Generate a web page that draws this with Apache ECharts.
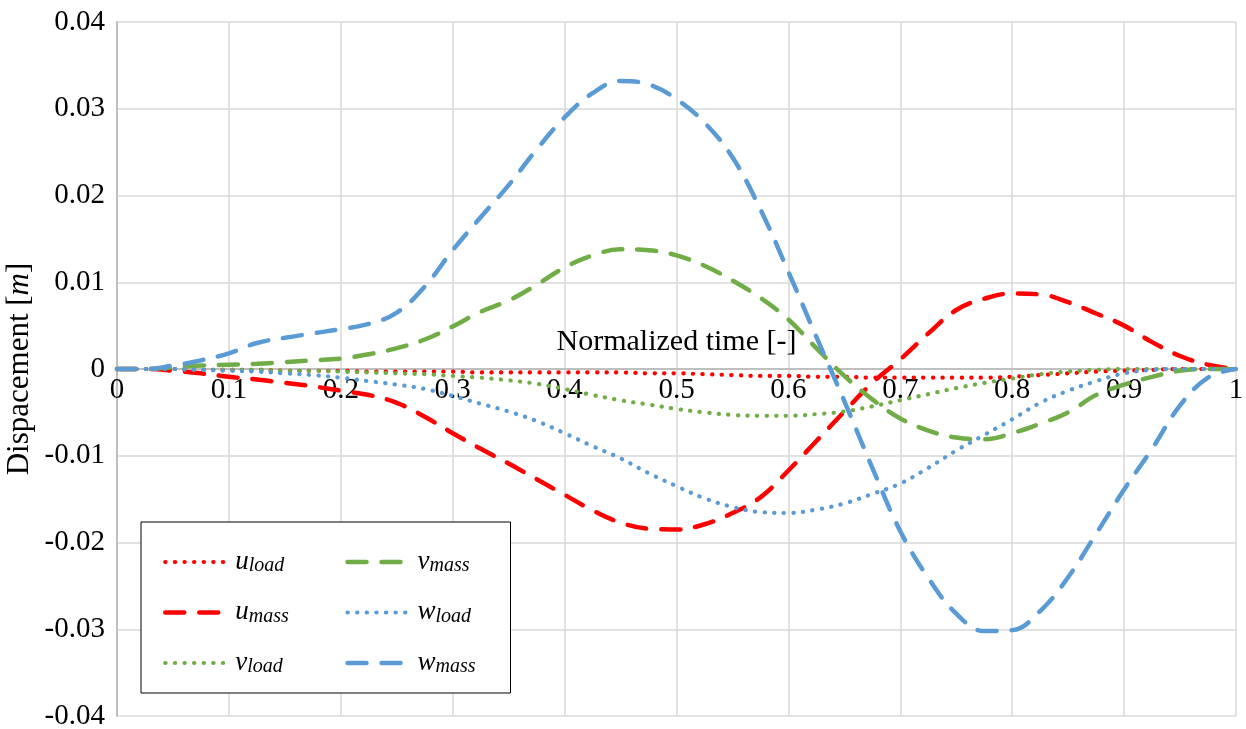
<!DOCTYPE html>
<html>
<head>
<meta charset="utf-8">
<script src="https://cdn.jsdelivr.net/npm/echarts@6/dist/echarts.min.js"></script>
<style>
html,body{margin:0;padding:0;background:#fff;}
#chart{width:1246px;height:729px;}
</style>
</head>
<body>
<div id="chart"></div>
<script>
const time = [0,0.025,0.05,0.075,0.1,0.125,0.15,0.175,0.2,0.225,0.25,0.275,0.3,0.325,0.35,0.375,0.4,0.425,0.45,0.475,0.5,0.525,0.55,0.575,0.6,0.625,0.65,0.675,0.7,0.725,0.75,0.775,0.8,0.825,0.85,0.875,0.9,0.925,0.95,0.975,1];

const uLoad = [0,0,0,-0.0001,-0.0001,-0.0001,-0.0002,-0.0002,-0.0002,-0.0003,-0.0003,-0.0003,-0.0003,-0.0004,-0.0004,-0.0004,-0.0004,-0.0004,-0.0004,-0.0005,-0.0005,-0.0006,-0.0007,-0.0008,-0.0008,-0.0009,-0.0009,-0.001,-0.001,-0.001,-0.001,-0.001,-0.0009,-0.0007,-0.0005,-0.0003,-0.0002,-0.0001,0,0,0];

const uMass = [0,0,-0.0002,-0.0005,-0.0009,-0.0012,-0.0016,-0.0020,-0.0025,-0.0030,-0.0039,-0.0055,-0.0074,-0.0092,-0.0109,-0.0127,-0.0145,-0.0163,-0.0177,-0.0184,-0.0185,-0.0179,-0.0166,-0.0148,-0.0117,-0.0083,-0.0049,-0.0016,0.0011,0.0041,0.0068,0.0081,0.0087,0.0086,0.0077,0.0064,0.0050,0.0031,0.0015,0.0005,0];

const vLoad = [0,0,0,-0.0001,-0.0001,-0.0001,-0.0002,-0.0002,-0.0003,-0.0004,-0.0005,-0.0006,-0.0008,-0.0010,-0.0013,-0.0017,-0.0023,-0.0030,-0.0036,-0.0041,-0.0046,-0.0050,-0.0053,-0.0054,-0.0054,-0.0052,-0.0049,-0.0043,-0.0036,-0.0029,-0.0022,-0.0016,-0.0011,-0.0006,-0.0003,-0.0001,0,0,0,0,0];

const vMass = [0,0,0.0002,0.0004,0.0005,0.0006,0.0008,0.0010,0.0012,0.0017,0.0024,0.0034,0.0049,0.0066,0.0079,0.0097,0.0117,0.0131,0.0138,0.0137,0.0131,0.0119,0.0102,0.0082,0.0057,0.0024,-0.0008,-0.0035,-0.0057,-0.0071,-0.0079,-0.0081,-0.0074,-0.0063,-0.0050,-0.0030,-0.0018,-0.0009,-0.0002,0,0];

const wLoad = [0,0,0,-0.0001,-0.0002,-0.0003,-0.0005,-0.0007,-0.0010,-0.0014,-0.0018,-0.0023,-0.0031,-0.0040,-0.0049,-0.0060,-0.0074,-0.0089,-0.0103,-0.0120,-0.0135,-0.0149,-0.0159,-0.0165,-0.0166,-0.0162,-0.0155,-0.0144,-0.0132,-0.0114,-0.0094,-0.0076,-0.0058,-0.0039,-0.0025,-0.0014,-0.0005,-0.0001,0,0,0];

const wMass = [0,0,0.0004,0.0010,0.0018,0.0030,0.0036,0.0041,0.0046,0.0052,0.0065,0.0095,0.0137,0.0175,0.0212,0.0253,0.0290,0.0318,0.0332,0.0328,0.0311,0.0284,0.0244,0.0184,0.0112,0.0037,-0.0037,-0.0114,-0.0187,-0.0241,-0.0282,-0.0302,-0.0301,-0.0279,-0.0240,-0.0190,-0.0139,-0.0092,-0.0042,-0.0010,0];

const seriesNames = ['u_load','u_mass','v_load','v_mass','w_load','w_mass'];
const seriesValues = [uLoad,uMass,vLoad,vMass,wLoad,wMass];
const seriesColors = ['#ff0000','#ff0000','#70ad47','#70ad47','#5b9bd5','#5b9bd5'];
const seriesDash = ['dot','dash','dot','dash','dot','dash'];

const xTicks = {min:0, max:1, interval:0.1};
const yTicks = {min:-0.04, max:0.04, interval:0.01};

const FONT = "'Liberation Serif', 'Times New Roman', serif";
const W = 1246, H = 729;
const gridBox = {left: 117, right: 10, top: 22, bottom: 13};
// place the x axis line at y = 0 (computed from the y scale)
const plotH = H - gridBox.top - gridBox.bottom;
const zeroOffset = -plotH * (0 - yTicks.min) / (yTicks.max - yTicks.min);

const chart = echarts.init(document.getElementById('chart'), null, {renderer:'canvas'});

const series = seriesNames.map((name, i) => ({
  name: name,
  type: 'line',
  data: time.map((t, k) => [t, seriesValues[i][k]]),
  smooth: 0.4,
  symbol: 'none',
  showSymbol: false,
  lineStyle: {
    color: seriesColors[i],
    width: seriesDash[i] === 'dash' ? 4.5 : 4.2,
    type: seriesDash[i] === 'dash' ? [19, 15] : [0.3, 9.3],
    cap: 'round'
  },
  itemStyle: {color: seriesColors[i]},
  z: 2 + i
}));

chart.setOption({
  animation: false,
  backgroundColor: '#ffffff',
  grid: Object.assign({containLabel: false, outerBoundsMode: 'none'}, gridBox),
  xAxis: {
    type: 'value',
    min: xTicks.min, max: xTicks.max, interval: xTicks.interval,
    offset: zeroOffset,
    name: 'Normalized time [-]',
    nameLocation: 'middle',
    nameGap: -42,
    nameMoveOverlap: false,
    nameTextStyle: {fontFamily: FONT, fontSize: 30, color: '#000'},
    axisLine: {show: true, onZero: false, lineStyle: {color: '#bfbfbf', width: 2}},
    axisTick: {show: false},
    axisLabel: {fontFamily: FONT, fontSize: 29, color: '#000', margin: 7,
      formatter: v => String(Math.round(v * 10) / 10)},
    splitLine: {show: true, lineStyle: {color: '#d9d9d9', width: 1.5}}
  },
  yAxis: {
    type: 'value',
    min: yTicks.min, max: yTicks.max, interval: yTicks.interval,
    name: '{a|Dispacement [}{i|m}{a|]}',
    nameLocation: 'middle',
    nameRotate: 90,
    nameGap: 82,
    nameMoveOverlap: false,
    nameTextStyle: {
      rich: {
        a: {fontFamily: FONT, fontSize: 31, color: '#000'},
        i: {fontFamily: FONT, fontSize: 31, fontStyle: 'italic', color: '#000'}
      }
    },
    axisLine: {show: true, onZero: false, lineStyle: {color: '#bfbfbf', width: 2}},
    axisTick: {show: false},
    axisLabel: {fontFamily: FONT, fontSize: 29, color: '#000', margin: 12,
      formatter: v => String(Math.round(v * 100) / 100)},
    splitLine: {show: true, lineStyle: {color: '#d9d9d9', width: 1.5}}
  },
  legend: {
    data: seriesNames,
    orient: 'vertical',
    left: 141,
    top: 522,
    height: 145,
    padding: [26, 1, 16, 22],
    itemGap: 22.5,
    itemWidth: 65,
    itemHeight: 14,
    backgroundColor: '#ffffff',
    borderColor: '#000000',
    borderWidth: 1,
    borderRadius: 0,
    itemStyle: {opacity: 0},
    lineStyle: {width: 'inherit'},
    textStyle: {
      rich: {
        m: {fontFamily: FONT, fontSize: 27, fontStyle: 'italic', color: '#000', lineHeight: 28, verticalAlign: 'top'},
        s: {fontFamily: FONT, fontSize: 20, fontStyle: 'italic', color: '#000', lineHeight: 18, verticalAlign: 'bottom', width: 74}
      }
    },
    formatter: name => {
      const p = name.split('_');
      return '{m|' + p[0] + '}{s|' + p[1] + '}';
    }
  },
  series: series
});
</script>
</body>
</html>
